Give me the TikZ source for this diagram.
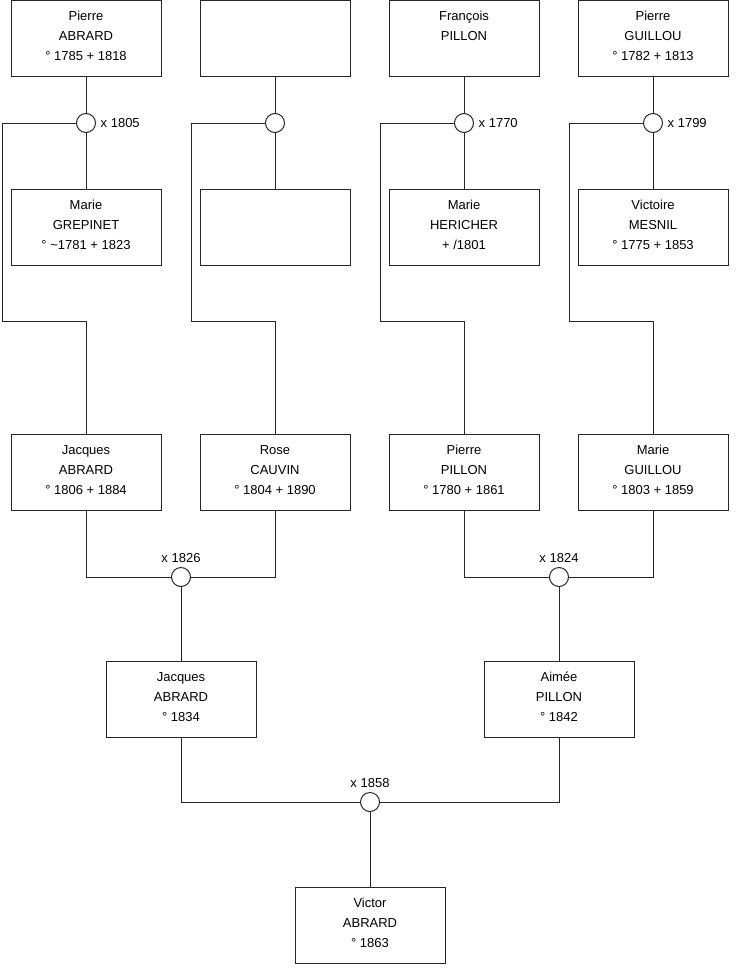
\documentclass[tikz,border=0pt]{standalone}
\usepackage{fontspec}
\setmainfont{Liberation Sans}
\begin{document}
\begin{tikzpicture}[x=1pt,y=-1pt,
  person/.style={draw=black!85,line width=1pt,fill=white,minimum width=150pt,minimum height=76pt,inner sep=0pt},
  pname/.style={anchor=center,yshift=2pt,inner sep=0pt,align=center,font=\fontsize{13}{20}\selectfont},
  wed/.style={draw=black!85,line width=1pt,fill=white,circle,minimum size=19pt,inner sep=0pt},
  lbl/.style={font=\fontsize{13}{15}\selectfont,inner sep=0pt},
  link/.style={draw=black!85,line width=1pt}]
\useasboundingbox (0,0) rectangle (740,975);
% row 1
\node[person] (p1) at (86,38) {};
\node[person] (p2) at (275,38) {};
\node[person] (p3) at (464,38) {};
\node[person] (p4) at (653,38) {};
\node[pname] (p1t) at (p1.center) {Pierre\\ABRARD\\° 1785 + 1818};
\node[pname] (p3t) at (p3.center) {François\\PILLON\\\phantom{° 1785}};
\node[pname] (p4t) at (p4.center) {Pierre\\GUILLOU\\° 1782 + 1813};
% row 2
\node[person] (m1) at (86,227) {};
\node[person] (m2) at (275,227) {};
\node[person] (m3) at (464,227) {};
\node[person] (m4) at (653,227) {};
\node[pname] (m1t) at (m1.center) {Marie\\GREPINET\\° \textasciitilde1781 + 1823};
\node[pname] (m3t) at (m3.center) {Marie\\HERICHER\\+ /1801};
\node[pname] (m4t) at (m4.center) {Victoire\\MESNIL\\° 1775 + 1853};
% circles row 1
\node[wed] (c1) at (86,123) {};
\node[wed] (c2) at (275,123) {};
\node[wed] (c3) at (464,123) {};
\node[wed] (c4) at (653,123) {};
\node[lbl,anchor=west] (l1) at ([xshift=4.5pt]c1.east) {x 1805};
\node[lbl,anchor=west] (l3) at ([xshift=4.5pt]c3.east) {x 1770};
\node[lbl,anchor=west] (l4) at ([xshift=4.5pt]c4.east) {x 1799};
% row 3
\node[person] (j1) at (86,472) {};
\node[person] (r1) at (275,472) {};
\node[person] (q1) at (464,472) {};
\node[person] (g1) at (653,472) {};
\node[pname] (j1t) at (j1.center) {Jacques\\ABRARD\\° 1806 + 1884};
\node[pname] (r1t) at (r1.center) {Rose\\CAUVIN\\° 1804 + 1890};
\node[pname] (q1t) at (q1.center) {Pierre\\PILLON\\° 1780 + 1861};
\node[pname] (g1t) at (g1.center) {Marie\\GUILLOU\\° 1803 + 1859};
% kinks
\coordinate (k1) at (2,321);
\coordinate (k2) at (191,321);
\coordinate (k3) at (380,321);
\coordinate (k4) at (569,321);
% circles row 3
\node[wed] (c5) at (181,577) {};
\node[wed] (c6) at (559,577) {};
\node[lbl,anchor=base] (l5) at ([yshift=5pt]c5.north) {x 1826};
\node[lbl,anchor=base] (l6) at ([yshift=5pt]c6.north) {x 1824};
% row 4
\node[person] (j2) at (181,699) {};
\node[person] (a2) at (559,699) {};
\node[pname] (j2t) at (j2.center) {Jacques\\ABRARD\\° 1834};
\node[pname] (a2t) at (a2.center) {Aimée\\PILLON\\° 1842};
\node[wed] (c7) at (370,802) {};
\node[lbl,anchor=base] (l7) at ([yshift=5pt]c7.north) {x 1858};
\node[person] (v) at (370,925) {};
\node[pname] (vt) at (v.center) {Victor\\ABRARD\\° 1863};
% links
\foreach \i in {1,2,3,4}{
  \draw[link] (p\i.south) -- (c\i.north);
  \draw[link] (c\i.south) -- (m\i.north);
}
\draw[link] (c1.west) -| (k1) -| (j1.north);
\draw[link] (c2.west) -| (k2) -| (r1.north);
\draw[link] (c3.west) -| (k3) -| (q1.north);
\draw[link] (c4.west) -| (k4) -| (g1.north);
\draw[link] (j1.south) |- (c5.west);
\draw[link] (r1.south) |- (c5.east);
\draw[link] (q1.south) |- (c6.west);
\draw[link] (g1.south) |- (c6.east);
\draw[link] (c5.south) -- (j2.north);
\draw[link] (c6.south) -- (a2.north);
\draw[link] (j2.south) |- (c7.west);
\draw[link] (a2.south) |- (c7.east);
\draw[link] (c7.south) -- (v.north);
\end{tikzpicture}
\end{document}
